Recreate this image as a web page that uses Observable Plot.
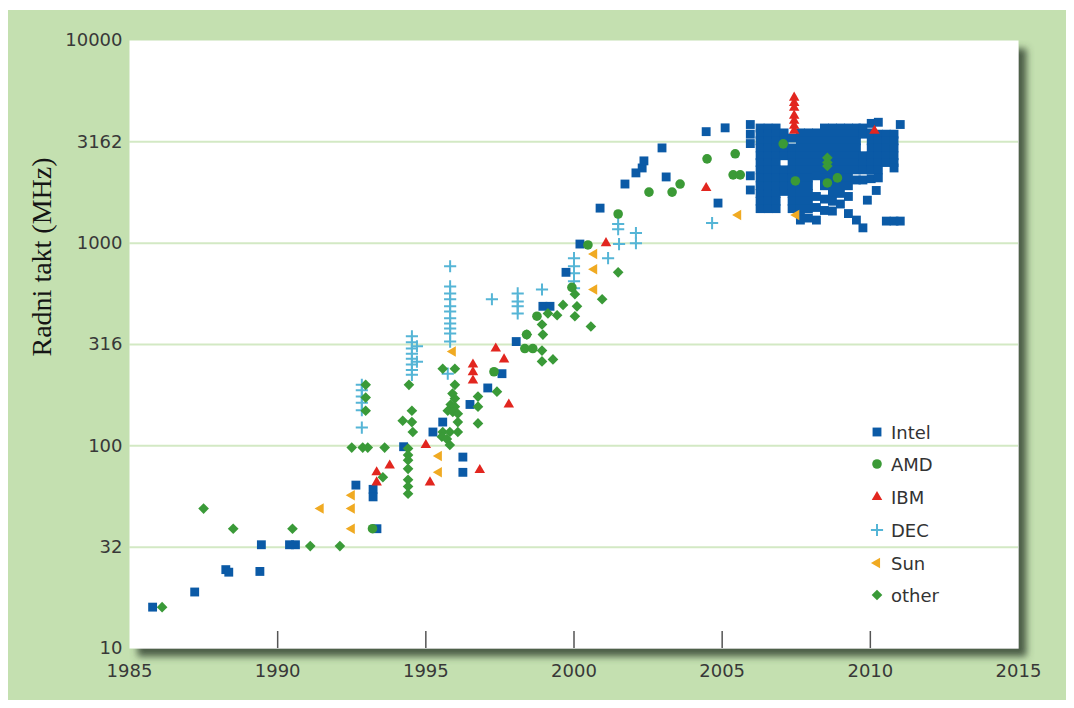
<!DOCTYPE html>
<html><head><meta charset="utf-8">
<script src="https://cdn.jsdelivr.net/npm/d3@7"></script>
<script src="https://cdn.jsdelivr.net/npm/@observablehq/plot@0.6"></script>
<style>
html,body{margin:0;padding:0;background:#fff;}
#wrap{position:relative;width:1074px;height:708px;overflow:hidden;}
#panel{position:absolute;left:8px;top:10px;width:1058px;height:690px;background:#c4e0b0;}
#chart{position:absolute;left:0;top:0;}
#legend{position:absolute;left:0;top:0;font-family:"DejaVu Sans";font-size:18px;color:#333;}
.row{position:absolute;height:24px;display:flex;align-items:center;white-space:nowrap;}
.row span{margin-left:2px;}
</style></head>
<body><div id="wrap"><div id="panel"></div><div id="chart"></div><div id="legend"></div></div>
<script>
// ---------- data (year, MHz) ----------
const xTicks = [1985, 1990, 1995, 2000, 2005, 2010, 2015];
const xTickMarks = [1990, 1995, 2000, 2005, 2010];
const yTickValues = [10, 31.62, 100, 316.2, 1000, 3162, 10000];
const yTickLabels = ["10", "32", "100", "316", "1000", "3162", "10000"];
const gridValues = [31.62, 100, 316.2, 1000, 3162];
const yLabel = "Radni takt (MHz)";
const seriesNames = ["Intel", "AMD", "IBM", "DEC", "Sun", "other"];

const intel = [
  [1985.78,16],[1987.2,19],[1988.25,24.5],[1988.35,23.8],[1989.4,24],[1989.45,32.5],[1990.4,32.5],[1990.6,32.5],
  [1993.35,39],[1992.64,64],[1993.22,61],[1993.22,56],[1994.25,99],[1995.24,117],[1995.57,131],[1996.25,88],
  [1996.25,74],[1996.49,160],[1997.09,193],[1997.57,227],[1998.05,327],[1998.95,488],[1999.19,488],[1999.73,718],
  [2000.2,990],[2000.88,1489],[2001.72,1958],[2002.09,2222],[2002.3,2350],[2002.36,2547],[2002.97,2951],
  [2003.11,2122],[2004.46,3550],[2005.1,3707],[2004.86,1577]
];
// dense 2006-2011 block: [year, list of MHz]
const intelColumns = [
  [2005.95, [3850,3450,3100,2150,1830]],
  [2006.28, [3700,3450,3200,2950,2700,2500,2300,2100,1920,1760,1610,1480]],
  [2006.55, [3700,3450,3200,2950,2700,2500,2300,2100,1920,1760,1610,1480]],
  [2006.82, [3700,3450,3200,2950,2700,2500,2300,2100,1920,1760,1610,1480]],
  [2007.09, [3500,3200,2950,2700,2300,2100,1920,1800]],
  [2007.36, [3300,2950,2700,2500,2300,2100,1920,1760,1610,1480]],
  [2007.64, [3500,3200,2950,2700,2500,2300,2100,1920,1760,1610,1480,1360,1300]],
  [2007.91, [3500,3200,2950,2700,2500,2300,2100,1920,1760,1610,1480,1330]],
  [2008.18, [3500,3200,2950,2700,2500,2300,2150,1700,1500,1300]],
  [2008.45, [3700,3450,3200,2950,2700,2500,2300,2100,1920,1650,1450]],
  [2008.72, [3700,3450,3200,2950,2700,2500,2300,2100,1920,1760,1610,1440]],
  [2008.99, [3700,3450,3200,2950,2700,2500,2300,2100,1920,1760,1560]],
  [2009.26, [3700,3450,3200,2950,2700,2500,2300,2100,1920,1700,1400]],
  [2009.53, [3700,3450,3200,2950,2700,2500,2300,2050,1300]],
  [2009.75, [3700,3450,2700,2500,2300,2050,1190]],
  [2009.9,  [1630]],
  [2010.03, [3900,3500,3200,2950,2700,2500,2300,2080]],
  [2010.2,  [1820]],
  [2010.27, [3950,3450,3200,2950,2700,2500,2300,2100]],
  [2010.54, [3450,3200,2950,2700,2500,1285]],
  [2010.8,  [3450,3200,2950,2700,2500,2350,1285]],
  [2011.01, [3850,1285]]
];
const amd = [
  [1993.2,39],[1997.3,232],[1998.34,302],[1998.61,302],[1998.75,436],[1998.4,354],[1999.93,605],[2000.47,980],
  [2001.49,1393],[2002.53,1786],[2003.31,1786],[2003.58,1958],[2004.49,2606],[2005.44,2760],[2005.37,2173],
  [2005.61,2173],[2007.06,3090],[2007.47,2028],[2008.55,1982],[2008.89,2099]
];
const ibm = [
  [1993.34,66],[1993.34,74],[1993.78,80],[1995.0,101],[1995.14,66],[1996.59,252],[1996.59,231],[1996.59,210],
  [1996.82,76],[1997.36,302],[1997.64,267],[1997.8,160],[2001.08,1000],[2004.46,1870],
  [2007.43,5224],[2007.43,4920],[2007.43,4660],[2007.43,4260],[2007.43,4020],[2007.43,3793],[2007.43,3583],
  [2010.14,3583]
];
const dec = [
  [1992.84,200],[1992.84,188],[1992.84,175],[1992.84,163],[1992.84,150],[1992.84,123],
  [1994.53,347],[1994.53,324],[1994.53,302],[1994.53,285],[1994.53,269],[1994.53,252],[1994.53,237],[1994.53,224],
  [1994.7,310],[1994.7,260],
  [1995.74,227],
  [1995.82,769],[1995.82,612],[1995.82,565],[1995.82,529],[1995.82,488],[1995.82,460],[1995.82,426],
  [1995.82,402],[1995.82,379],[1995.82,358],[1995.82,327],
  [1997.23,529],[1998.1,565],[1998.1,516],[1998.1,488],[1998.1,450],[1998.92,591],
  [2000.0,843],[2000.0,769],[2000.0,711],[2000.0,649],[2000.0,600],
  [2001.15,843],[2001.49,1242],[2001.49,1172],[2001.52,990],[2002.09,1122],[2002.09,1000],[2004.66,1256]
];
const sun = [
  [1991.45,49],[1992.5,57],[1992.5,49],[1992.5,39],[1995.44,89],[1995.44,74],[1995.91,292],
  [2000.68,883],[2000.68,743],[2000.68,591],[2005.54,1376],[2007.5,1376]
];
const other = [
  [1986.1,16],[1987.5,49],[1988.5,39],[1990.5,39],[1991.1,32],[1992.1,32],
  [1992.5,98],[1992.87,98],[1993.04,98],[1993.61,98],[1993.55,70],
  [1992.97,200],[1992.97,173],[1992.97,149],
  [1994.43,200],[1994.53,149],[1994.22,133],[1994.53,131],[1994.56,117],
  [1994.4,97],[1994.4,90],[1994.4,85],[1994.4,77],[1994.4,68],[1994.4,63],[1994.4,58],
  [1995.57,240],[1995.98,240],[1995.98,200],[1995.9,181],[1995.98,171],[1995.84,160],[1995.98,156],
  [1995.74,149],[1995.91,147],[1996.08,144],[1996.08,131],[1995.57,117],[1995.81,117],[1996.08,117],
  [1995.54,111],[1995.71,108],[1995.81,101],
  [1996.76,175],[1996.76,156],[1996.76,129],[1997.4,185],
  [1998.41,354],[1998.95,354],[1998.92,397],[1999.12,450],[1999.43,441],[1999.63,496],[2000.1,488],
  [2000.03,436],[2000.03,560],[1998.92,295],[1999.29,267],[1998.92,261],[2000.95,529],[2000.57,388],
  [2001.49,718],[2008.55,2636],[2008.55,2500],[2008.55,2404]
];

// ---------- styles ----------
const colors = {Intel: "#0b5aa6", AMD: "#3b9a36", IBM: "#e2261f", DEC: "#55b5d6", Sun: "#f0aa22", other: "#3a9a38"};
const leftTriangle = {
  draw(context, size) {
    const s = Math.sqrt(size * 4 / Math.sqrt(3));
    const h = s * Math.sqrt(3) / 2;
    context.moveTo(-2 * h / 3, 0);
    context.lineTo(h / 3, -s / 2);
    context.lineTo(h / 3, s / 2);
    context.closePath();
  }
};
const symbols = {
  Intel: {symbol: "square", r: 5, fill: colors.Intel},
  AMD: {symbol: "circle", r: 4.8, fill: colors.AMD},
  IBM: {symbol: "triangle", r: 3.9, fill: colors.IBM},
  DEC: {symbol: "plus", r: 4, stroke: colors.DEC, strokeWidth: 2, fill: "none"},
  Sun: {symbol: leftTriangle, r: 3.9, fill: colors.Sun},
  other: {symbol: "diamond2", r: 4.8, fill: colors.other}
};

const intelAll = intel.concat(intelColumns.flatMap(([yr, vals]) => vals.map(v => [yr, v])));
const seriesData = {Intel: intelAll, AMD: amd, IBM: ibm, DEC: dec, Sun: sun, other: other};
const drawOrder = ["DEC", "Intel", "AMD", "IBM", "Sun", "other"];

const font = "DejaVu Sans";
const chart = Plot.plot({
  width: 1074, height: 708,
  marginLeft: 129, marginRight: 56, marginTop: 40, marginBottom: 60,
  x: {domain: [1985, 2015]},
  y: {type: "log", domain: [10, 10000]},
  style: {background: "transparent", overflow: "visible"},
  marks: [
    Plot.frame({fill: "white", stroke: null}),
    Plot.ruleY(gridValues, {stroke: "#d3e9c4", strokeWidth: 2}),
    Plot.ruleX(xTickMarks, {insetTop: 591, stroke: "#555", strokeWidth: 1.5}),
    Plot.axisY(yTickValues, {tickSize: 0, tickPadding: 7, tickFormat: d => yTickLabels[yTickValues.indexOf(d)],
      fontSize: 18, fontFamily: font, fill: "#383838", label: null}),
    Plot.axisX(xTicks, {tickSize: 0, tickPadding: 16, tickFormat: d => String(d),
      fontSize: 18, fontFamily: font, fill: "#383838", label: null}),
    Plot.text([yLabel], {text: d => d, frameAnchor: "left", rotate: -90, dx: -87, dy: 12,
      fontSize: 28, fontFamily: "Liberation Serif", fill: "#151515"}),
    ...drawOrder.map(name => Plot.dot(seriesData[name], {x: d => d[0], y: d => d[1], ...symbols[name]}))
  ]
});
document.getElementById("chart").appendChild(chart);

// drop shadow on the white plot area
const svg = chart.tagName.toLowerCase() === "svg" ? chart : chart.querySelector("svg");
const ns = "http://www.w3.org/2000/svg";
const defs = document.createElementNS(ns, "defs");
defs.innerHTML = '<filter id="plotShadow" x="-5%" y="-5%" width="112%" height="115%">' +
  '<feDropShadow dx="8" dy="8" stdDeviation="3.5" flood-color="#3e4f3a" flood-opacity="0.9"/></filter>';
svg.insertBefore(defs, svg.firstChild);
const frame = svg.querySelector('[aria-label="frame"]');
if (frame) frame.setAttribute("filter", "url(#plotShadow)");

// legend (inside plot, bottom right)
const legend = d3.select("#legend");
const rowY = [432, 464, 497, 530, 563, 595];
seriesNames.forEach((name, i) => {
  const s = symbols[name];
  const row = legend.append("div").attr("class", "row").style("left", "865px").style("top", (rowY[i] - 12) + "px");
  const sv = row.append("svg").attr("width", 24).attr("height", 24);
  const type = typeof s.symbol === "string"
    ? {square: d3.symbolSquare, circle: d3.symbolCircle, triangle: d3.symbolTriangle, plus: d3.symbolPlus, diamond2: d3.symbolDiamond2}[s.symbol]
    : s.symbol;
  sv.append("path").attr("transform", "translate(12,12)")
    .attr("d", d3.symbol(type, Math.PI * s.r * s.r)())
    .attr("fill", s.fill || "none").attr("stroke", s.stroke || "none").attr("stroke-width", s.strokeWidth || 0);
  row.append("span").text(name);
});
</script>
</body></html>
